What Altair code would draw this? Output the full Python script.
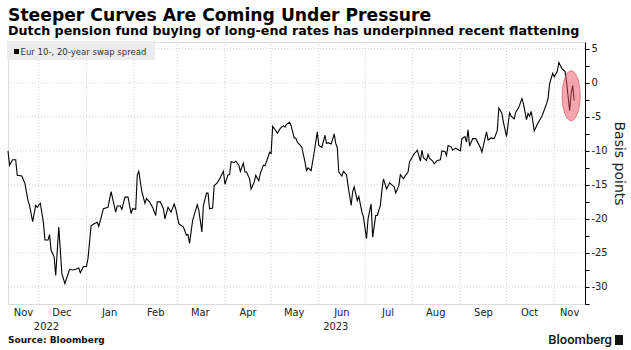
import altair as alt
import pandas as pd

# ---------------- data ----------------
dates = [
    "2022-11-11", "2022-11-12", "2022-11-14", "2022-11-16", "2022-11-17", "2022-11-20", "2022-11-22",
    "2022-11-24", "2022-11-25", "2022-11-27", "2022-11-29", "2022-11-30",
    "2022-12-02", "2022-12-04", "2022-12-05", "2022-12-07", "2022-12-08", "2022-12-09", "2022-12-11",
    "2022-12-12", "2022-12-14", "2022-12-16", "2022-12-18", "2022-12-21", "2022-12-23", "2022-12-25",
    "2022-12-27", "2022-12-28", "2022-12-30",
    "2023-01-01", "2023-01-02", "2023-01-04", "2023-01-06", "2023-01-08", "2023-01-09", "2023-01-12",
    "2023-01-15", "2023-01-17", "2023-01-20", "2023-01-21", "2023-01-23", "2023-01-24", "2023-01-26",
    "2023-01-28", "2023-01-30", "2023-01-31",
    "2023-02-02", "2023-02-03", "2023-02-04", "2023-02-06", "2023-02-08", "2023-02-09", "2023-02-11",
    "2023-02-13", "2023-02-15", "2023-02-16", "2023-02-18", "2023-02-20", "2023-02-21", "2023-02-23",
    "2023-02-25", "2023-02-27", "2023-02-28",
    "2023-03-02", "2023-03-05", "2023-03-07", "2023-03-08", "2023-03-09", "2023-03-11", "2023-03-14",
    "2023-03-15", "2023-03-17", "2023-03-18", "2023-03-20", "2023-03-21", "2023-03-22", "2023-03-24",
    "2023-03-25", "2023-03-27", "2023-03-29", "2023-03-31",
    "2023-04-01", "2023-04-03", "2023-04-04", "2023-04-05", "2023-04-07", "2023-04-08", "2023-04-10",
    "2023-04-11", "2023-04-13", "2023-04-14", "2023-04-15", "2023-04-17", "2023-04-18", "2023-04-20",
    "2023-04-21", "2023-04-23", "2023-04-24", "2023-04-26", "2023-04-27", "2023-04-29", "2023-04-30",
    "2023-05-01", "2023-05-02", "2023-05-04", "2023-05-05", "2023-05-07", "2023-05-09", "2023-05-10",
    "2023-05-11", "2023-05-13", "2023-05-14", "2023-05-16", "2023-05-17", "2023-05-18", "2023-05-20",
    "2023-05-21", "2023-05-23", "2023-05-24", "2023-05-25", "2023-05-27", "2023-05-29", "2023-05-31",
    "2023-06-01", "2023-06-03", "2023-06-05", "2023-06-06", "2023-06-07", "2023-06-09", "2023-06-11",
    "2023-06-12", "2023-06-13", "2023-06-14", "2023-06-16", "2023-06-17", "2023-06-19", "2023-06-20",
    "2023-06-22", "2023-06-23", "2023-06-24", "2023-06-26", "2023-06-27", "2023-06-29", "2023-06-30",
    "2023-07-02", "2023-07-03", "2023-07-05", "2023-07-06", "2023-07-08", "2023-07-09", "2023-07-11",
    "2023-07-12", "2023-07-13", "2023-07-15", "2023-07-17", "2023-07-20", "2023-07-21", "2023-07-23",
    "2023-07-24", "2023-07-26", "2023-07-27", "2023-07-29", "2023-07-30",
    "2023-08-01", "2023-08-02", "2023-08-03", "2023-08-04", "2023-08-06", "2023-08-07", "2023-08-08",
    "2023-08-10", "2023-08-11", "2023-08-12", "2023-08-14", "2023-08-15", "2023-08-17", "2023-08-19",
    "2023-08-20", "2023-08-22", "2023-08-23", "2023-08-24", "2023-08-26", "2023-08-27", "2023-08-29",
    "2023-09-01", "2023-09-02", "2023-09-04", "2023-09-05", "2023-09-06", "2023-09-07", "2023-09-09",
    "2023-09-11", "2023-09-14", "2023-09-15", "2023-09-17", "2023-09-18", "2023-09-19", "2023-09-21",
    "2023-09-23", "2023-09-25", "2023-09-26", "2023-09-28", "2023-09-29",
    "2023-10-01", "2023-10-03", "2023-10-04", "2023-10-06", "2023-10-07", "2023-10-09", "2023-10-11",
    "2023-10-12", "2023-10-14", "2023-10-15", "2023-10-16", "2023-10-17", "2023-10-18", "2023-10-19",
    "2023-10-21", "2023-10-23", "2023-10-24", "2023-10-27", "2023-10-28", "2023-10-29", "2023-10-31",
    "2023-11-01", "2023-11-03", "2023-11-04", "2023-11-06", "2023-11-08", "2023-11-09", "2023-11-11",
    "2023-11-12", "2023-11-13", "2023-11-14",
]

spread = [
    -10.0, -12.1, -11.3, -11.3, -13.6, -13.7, -14.8, -17.3, -18.0, -20.4, -18.0, -18.3,
    -17.7, -20.5, -23.1, -23.1, -22.3, -24.6, -25.6, -28.3, -21.2, -28.0, -29.5, -27.4, -27.5, -27.4,
    -27.2, -27.9, -27.0,
    -27.0, -25.8, -21.0, -20.7, -20.5, -21.1, -18.5, -18.3, -16.0, -19.0, -18.1, -18.1, -18.6, -16.8,
    -16.8, -19.2, -18.5,
    -18.6, -13.6, -13.0, -16.0, -17.7, -17.0, -17.5, -18.3, -19.5, -17.5, -17.5, -18.5, -20.0, -18.3,
    -19.0, -17.8, -18.5,
    -20.7, -21.2, -22.4, -22.3, -23.6, -20.2, -17.9, -18.7, -21.9, -18.0, -16.2, -16.2, -18.5, -18.4,
    -15.1, -14.7, -13.9, -13.0,
    -14.9, -13.5, -13.5, -11.6, -11.7, -11.5, -12.1, -13.0, -11.8, -13.1, -13.1, -14.1, -15.6, -14.6,
    -13.6, -14.4, -13.3, -12.1, -12.2, -10.9, -10.2,
    -10.4, -6.4, -7.0, -7.4, -6.7, -6.3, -6.5, -6.1, -5.8, -6.3, -8.1, -8.1, -8.7, -9.2,
    -9.5, -11.6, -12.9, -12.5, -12.9, -10.2, -7.2,
    -9.2, -9.5, -7.7, -8.9, -8.8, -9.0, -7.5, -8.9, -9.5, -13.1, -13.7, -13.0, -13.5, -15.1,
    -18.0, -16.0, -15.3, -17.3, -16.7, -19.0, -19.7,
    -22.9, -20.0, -17.8, -22.7, -19.5, -19.5, -18.0, -15.8, -14.1, -15.6, -14.7, -15.3, -16.2, -15.1,
    -13.5, -14.1, -13.7, -13.1, -11.6,
    -10.8, -10.4, -10.2, -9.9, -11.5, -9.9, -11.0, -11.4, -10.5, -11.1, -11.5, -11.9, -11.4, -11.3,
    -10.0, -10.1, -10.7, -9.2, -9.4, -9.9, -9.6,
    -10.0, -8.2, -7.9, -8.7, -6.9, -9.3, -8.2, -8.2, -9.5, -10.2, -8.2, -7.2, -8.4, -8.1,
    -8.2, -7.0, -3.7, -4.5, -5.8,
    -7.9, -4.4, -4.9, -5.3, -4.3, -3.6, -2.3, -3.1, -5.4, -4.5, -4.9, -4.2, -5.5, -7.1,
    -6.1, -5.3, -4.9, -3.1, -2.3, -0.1, 1.4,
    0.9, 1.7, 3.0, 2.1, 1.7, 0.2, -4.1, -1.6, -0.4, -2.6,
]

month_names = ["Nov", "Dec", "Jan", "Feb", "Mar", "Apr", "May", "Jun", "Jul", "Aug", "Sep", "Oct", "Nov"]
month_label_dates = ["2022-11-21", "2022-12-16", "2023-01-16", "2023-02-15", "2023-03-16", "2023-04-16",
                     "2023-05-16", "2023-06-16", "2023-07-16", "2023-08-16", "2023-09-16", "2023-10-16",
                     "2023-11-11"]
year_names = ["2022", "2023"]
year_label_dates = ["2022-12-06", "2023-06-12"]
month_starts = ["2022-12-01", "2023-01-01", "2023-02-01", "2023-03-01", "2023-04-01", "2023-05-01",
                "2023-06-01", "2023-07-01", "2023-08-01", "2023-09-01", "2023-10-01", "2023-11-01"]
grid_values = [5, 0, -5, -10, -15, -20, -25, -30]
tick_values = [5, 2.5, 0, -2.5, -5, -7.5, -10, -12.5, -15, -17.5, -20, -22.5, -25, -27.5, -30, -32.5]
x_domain = ["2022-11-11", "2023-11-21"]
y_domain = [-32.5, 6]

highlight_date = ["2023-11-12"]
highlight_value = [-1.9]

legend_label = "Eur 10-, 20-year swap spread"
title_text = "Steeper Curves Are Coming Under Pressure"
subtitle_text = "Dutch pension fund buying of long-end rates has underpinned recent flattening"
source_text = "Source: Bloomberg"
brand_text = "Bloomberg"

# ---------------- chart ----------------
W, H = 577, 262
COND = "DejaVu Sans Condensed, DejaVu Sans"


def dt(s):
    t = pd.Timestamp(s)
    return alt.DateTime(year=t.year, month=t.month, date=t.day, utc=True)


xscale = alt.Scale(type="utc", domain=[dt(x_domain[0]), dt(x_domain[1])])
yscale = alt.Scale(domain=y_domain, nice=False, zero=False)

yaxis = alt.Axis(
    orient="right",
    values=tick_values,
    labelExpr="datum.value % 5 === 0 ? toString(datum.value) : ''",
    grid=False,
    domain=True,
    domainColor="black",
    domainWidth=1,
    ticks=True,
    tickColor="black",
    tickSize=4,
    labelPadding=2,
    labelFont=COND,
    labelFontSize=11,
    labelColor="#222222",
    title="Basis points",
    titleFont="DejaVu Sans",
    titleFontSize=14,
    titleFontWeight="normal",
    titleColor="#222222",
    titlePadding=4,
    titleY=121,
)

df = pd.DataFrame({"date": dates, "spread": spread})

vgrid = alt.Chart(pd.DataFrame({"d": month_starts})).mark_rule(
    color="#cfcfcf", strokeDash=[1, 2], strokeWidth=1
).encode(x=alt.X("d:T", scale=xscale, axis=None))

hgrid = alt.Chart(pd.DataFrame({"v": grid_values})).mark_rule(
    color="#cfcfcf", strokeDash=[1, 2], strokeWidth=1
).encode(y=alt.Y("v:Q", scale=yscale, axis=yaxis))

line = alt.Chart(df).mark_line(color="black", strokeWidth=1.1).encode(
    x=alt.X("date:T", scale=xscale, axis=None),
    y=alt.Y("spread:Q", scale=yscale, axis=yaxis),
)

highlight = alt.Chart(pd.DataFrame({"d": highlight_date, "v": highlight_value})).mark_point(
    shape="M -0.36 0 A 0.36 1 0 1 0 0.36 0 A 0.36 1 0 1 0 -0.36 0 Z",
    size=2500,
    filled=True,
    fill="#ee4d5f",
    fillOpacity=0.5,
    stroke="#e0566a",
    strokeWidth=1,
    strokeOpacity=0.7,
    opacity=1,
).encode(
    x=alt.X("d:T", scale=xscale, axis=None),
    y=alt.Y("v:Q", scale=yscale, axis=yaxis),
)

months = alt.Chart(pd.DataFrame({"d": month_label_dates, "t": month_names})).mark_text(
    font=COND, fontSize=11, baseline="middle", color="#222222"
).encode(x=alt.X("d:T", scale=xscale, axis=None), y=alt.value(H + 9), text="t:N")

years = alt.Chart(pd.DataFrame({"d": year_label_dates, "t": year_names})).mark_text(
    font=COND, fontSize=11, baseline="middle", color="#222222"
).encode(x=alt.X("d:T", scale=xscale, axis=None), y=alt.value(H + 23), text="t:N")

legend_df = pd.DataFrame({"t": [legend_label]})
legend_box = alt.Chart(legend_df).mark_rect(color="#ececec").encode(
    x=alt.value(-1), x2=alt.value(147), y=alt.value(-1), y2=alt.value(18)
)
legend_sq = alt.Chart(legend_df).mark_rect(color="black").encode(
    x=alt.value(6), x2=alt.value(11), y=alt.value(7), y2=alt.value(12)
)
legend_txt = alt.Chart(legend_df).mark_text(
    font=COND, fontSize=9.5, align="left", baseline="middle", color="#333333"
).encode(x=alt.value(12.5), y=alt.value(9.5), text="t:N")

source = alt.Chart(pd.DataFrame({"t": [source_text]})).mark_text(
    font="DejaVu Sans", fontWeight="bold", fontSize=9, align="left", baseline="middle", color="#111111"
).encode(x=alt.value(0), y=alt.value(H + 36), text="t:N")

brand = alt.Chart(pd.DataFrame({"t": [brand_text]})).mark_text(
    font="Roboto", fontWeight=500, fontSize=13, align="right", baseline="middle", color="#111111"
).encode(x=alt.value(W + 27), y=alt.value(H + 36), text="t:N")

brand_icon = alt.Chart(pd.DataFrame({"t": [brand_text]})).mark_rect(color="#111111").encode(
    x=alt.value(W + 30), x2=alt.value(W + 38), y=alt.value(H + 31), y2=alt.value(H + 41)
)

chart = alt.layer(
    vgrid, hgrid, line, highlight, months, years,
    legend_box, legend_sq, legend_txt, source, brand, brand_icon,
).properties(
    width=W,
    height=H,
    autosize=alt.AutoSizeParams(type="none"),
    padding={"left": 8, "top": 42, "right": 46, "bottom": 46},
    title=alt.TitleParams(
        text=title_text,
        subtitle=subtitle_text,
        anchor="start",
        frame="group",
        font="DejaVu Sans",
        fontSize=17.2,
        fontWeight="bold",
        color="black",
        subtitleFont="DejaVu Sans",
        subtitleFontSize=12.7,
        subtitleFontWeight="bold",
        subtitleColor="black",
        subtitlePadding=1,
        offset=3,
    ),
).configure_view(stroke=None).configure(background="white")

chart.save("out.html", embed_options={"renderer": "svg", "actions": False})
